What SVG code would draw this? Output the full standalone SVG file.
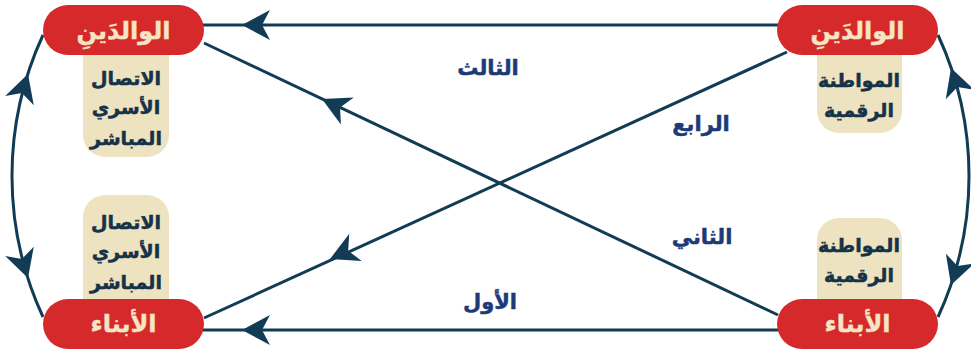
<svg xmlns="http://www.w3.org/2000/svg" width="971" height="354" viewBox="0 0 971 354">
<style>
.pill{fill:#d5292b}
.box{fill:#eee3c0}
.pt{font-family:"DejaVu Sans",sans-serif;font-weight:bold;font-size:24px;fill:#f6e4c4;stroke:#f6e4c4;stroke-width:0.4;text-anchor:middle}
.bt{font-family:"DejaVu Sans",sans-serif;font-weight:bold;font-size:19px;fill:#163248;stroke:#163248;stroke-width:0.5;text-anchor:middle}
.lb{font-family:"DejaVu Sans",sans-serif;font-weight:bold;font-size:21px;fill:#1c3a78;stroke:#1c3a78;stroke-width:0.5;text-anchor:middle}
.ln{stroke:#123c55;stroke-width:3;fill:none}
.ah{fill:#123c55}
</style>
<defs>
<path id="ah" d="M0,0 L-28,-15 L-20,0 L-28,15 Z"/>
</defs>
<g id="connectors">
<line class="ln" x1="200" y1="25" x2="780" y2="25"/>
<line class="ln" x1="200" y1="330" x2="780" y2="330"/>
<line class="ln" x1="204" y1="43" x2="778" y2="315"/>
<line class="ln" x1="787" y1="52" x2="204" y2="318"/>
<path class="ln" d="M43,35 A336,336 0 0 0 43,317"/>
<path class="ln" d="M938,35 A336,336 0 0 1 938,317"/>
<use href="#ah" class="ah" transform="translate(242,25) rotate(180)"/>
<use href="#ah" class="ah" transform="translate(242,330) rotate(180)"/>
<use href="#ah" class="ah" transform="translate(322,99) rotate(205.36)"/>
<use href="#ah" class="ah" transform="translate(330,259) rotate(155.47)"/>
<use href="#ah" class="ah" transform="translate(28,74) rotate(-72.3)"/>
<use href="#ah" class="ah" transform="translate(28,278) rotate(72.3)"/>
<use href="#ah" class="ah" transform="translate(951,68) rotate(-108.75)"/>
<use href="#ah" class="ah" transform="translate(951,285) rotate(108.9)"/>
</g>
<g id="labels">
<text class="lb" x="488" y="75">الثالث</text>
<text class="lb" x="701" y="131">الرابع</text>
<text class="lb" x="702" y="244">الثاني</text>
<text class="lb" x="490" y="309">الأول</text>
</g>
<g id="node-parents-left">
<rect class="box" x="83" y="30" width="86" height="127" rx="22"/>
<rect class="pill" x="43" y="5" width="161" height="50" rx="25"/>
<text class="pt" x="123.5" y="39">الوالدَينِ</text>
<text class="bt" x="126" y="85">الاتصال</text>
<text class="bt" x="126" y="114">الأسري</text>
<text class="bt" x="126" y="145">المباشر</text>
</g>
<g id="node-parents-right">
<rect class="box" x="817" y="30" width="85" height="103" rx="22"/>
<rect class="pill" x="777" y="5" width="161" height="50" rx="25"/>
<text class="pt" x="857.5" y="39">الوالدَينِ</text>
<text class="bt" x="859" y="87">المواطنة</text>
<text class="bt" x="859" y="117">الرقمية</text>
</g>
<g id="node-children-left">
<rect class="box" x="83" y="195" width="86" height="130" rx="22"/>
<rect class="pill" x="43" y="299" width="161" height="50" rx="25"/>
<text class="pt" x="123.5" y="332">الأبناء</text>
<text class="bt" x="126" y="229">الاتصال</text>
<text class="bt" x="126" y="258">الأسري</text>
<text class="bt" x="126" y="289">المباشر</text>
</g>
<g id="node-children-right">
<rect class="box" x="817" y="218" width="85" height="107" rx="22"/>
<rect class="pill" x="777" y="299" width="161" height="50" rx="25"/>
<text class="pt" x="857.5" y="332">الأبناء</text>
<text class="bt" x="859" y="252">المواطنة</text>
<text class="bt" x="859" y="282">الرقمية</text>
</g>
</svg>
